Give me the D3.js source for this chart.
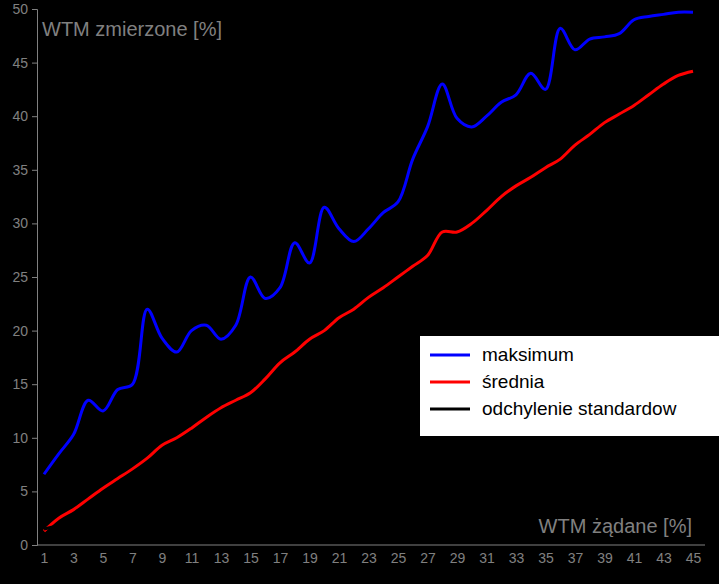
<!DOCTYPE html>
<html>
<head>
<meta charset="utf-8">
<script src="https://cdn.jsdelivr.net/npm/d3@7"></script>
<style>
  body { margin: 0; background: #000; }
  text { font-family: "Liberation Sans", Arial, sans-serif; }
</style>
</head>
<body>
<div class="container"></div>
<script>
const categories = d3.range(1, 46);
const maksimum = [6.6, 8.5, 10.3, 13.5, 12.5, 14.5, 15, 22, 19.3, 18, 20, 20.5, 19.2, 20.5, 25,
  23, 24, 28.2, 26.3, 31.5, 29.5, 28.3, 29.5, 31, 32, 36, 39, 43, 39.8, 39,
  40, 41.3, 42, 44, 42.5, 48.2, 46.2, 47.2, 47.4, 47.7, 49, 49.3, 49.5, 49.7, 49.7];
const srednia = [1.3, 2.5, 3.3, 4.3, 5.3, 6.2, 7.1, 8.1, 9.3, 10, 10.9, 11.9, 12.8, 13.5, 14.2,
  15.5, 17, 18, 19.2, 20, 21.2, 22, 23.1, 24, 25, 26, 27, 29.2, 29.2, 30,
  31.2, 32.5, 33.5, 34.3, 35.2, 36, 37.3, 38.3, 39.4, 40.2, 41, 42, 43, 43.8, 44.2];
const odchylenie = [1.5, 1.8, 2.1, 2.4, 2.2, 2.3, 2.5, 3.6, 2.9, 2.5, 2.7, 2.6, 2.2, 2.4, 3.1,
  2.5, 2.4, 3.0, 2.3, 3.2, 2.6, 2.1, 2.2, 2.3, 2.3, 2.9, 3.2, 3.6, 2.8, 2.5,
  2.4, 2.5, 2.4, 2.7, 2.2, 3.1, 2.6, 2.5, 2.3, 2.2, 2.3, 2.2, 2.1, 2.0, 1.9];
const yTicks = d3.range(0, 51, 5);
const xTickLabels = categories.filter(d => d % 2 === 1);
const seriesNames = ['maksimum', 'średnia', 'odchylenie standardow'];
const seriesColors = ['#0000ff', '#ff0000', '#000000'];

const W = 719, H = 584;
const m = { left: 37, right: 14, top: 9, bottom: 39 };

var display = function () {
  var svg = d3.select('.container').append('svg')
    .attr('width', W).attr('height', H)
    .style('background', '#000');

  var x = d3.scalePoint().domain(categories)
    .range([m.left + 7, W - m.right - 12]);
  var y = d3.scaleLinear().domain([0, 50]).range([H - m.bottom, m.top]);

  var line = d3.line().x((d, i) => x(categories[i])).y(d => y(d))
    .curve(d3.curveCatmullRom.alpha(0.5));
  [maksimum, srednia, odchylenie].forEach(function (s, i) {
    svg.append('path').attr('d', line(s)).attr('fill', 'none')
      .attr('stroke', seriesColors[i]).attr('stroke-width', 3);
  });

  var yAxis = svg.append('g').attr('transform', `translate(${m.left},0)`)
    .call(d3.axisLeft(y).tickValues(yTicks).tickSize(5).tickPadding(4));
  var xAxis = svg.append('g').attr('transform', `translate(0,${H - m.bottom})`)
    .call(d3.axisBottom(x).tickValues(xTickLabels).tickSize(0).tickPadding(8));
  xAxis.select('.domain').attr('d', `M${m.left},0H${W - m.right}`);
  [xAxis, yAxis].forEach(function (g) {
    g.selectAll('path, line').attr('stroke', '#808080');
    g.selectAll('text').attr('fill', '#808080').style('font-size', '14px');
  });

  svg.append('text').attr('x', 42).attr('y', 36).attr('fill', '#808080')
    .style('font-size', '20px').text('WTM zmierzone [%]');
  svg.append('text').attr('x', 692).attr('y', 533).attr('fill', '#808080')
    .attr('text-anchor', 'end').style('font-size', '20px').text('WTM żądane [%]');

  var lg = svg.append('g').attr('transform', 'translate(420,336)');
  lg.append('rect').attr('width', 299).attr('height', 100).attr('fill', '#fff');
  seriesNames.forEach(function (n, i) {
    var cy = 19 + i * 27;
    lg.append('line').attr('x1', 10).attr('x2', 50).attr('y1', cy).attr('y2', cy)
      .attr('stroke', seriesColors[i]).attr('stroke-width', 3);
    lg.append('text').attr('x', 62).attr('y', cy + 6).attr('fill', '#000')
      .style('font-size', '19px').text(n);
  });
}

window.onload = display;
</script>
</body>
</html>
